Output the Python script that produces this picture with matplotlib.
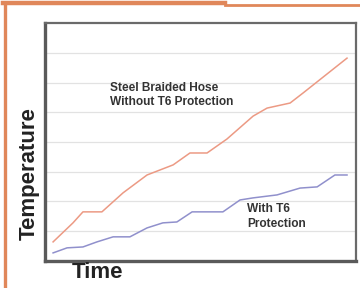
import matplotlib
matplotlib.use("Agg")
import matplotlib.pyplot as plt
from matplotlib.lines import Line2D

# Data (time in arbitrary units 0-100, temperature in arbitrary grid units 0-8)
hose_time = [2.6, 9.0, 12.2, 18.3, 25.1, 32.8, 37.0, 41.2, 46.6, 52.1, 58.5, 66.9, 71.4, 78.8, 83.0, 97.1]
hose_temp = [0.64, 1.28, 1.65, 1.65, 2.29, 2.89, 3.06, 3.23, 3.63, 3.63, 4.10, 4.87, 5.14, 5.31, 5.65, 6.82]

t6_time = [2.6, 7.1, 12.2, 16.7, 21.9, 27.3, 32.8, 37.9, 42.4, 47.3, 57.2, 62.7, 66.9, 74.6, 82.0, 87.5, 93.2, 97.1]
t6_temp = [0.27, 0.44, 0.47, 0.64, 0.81, 0.81, 1.11, 1.28, 1.31, 1.65, 1.65, 2.05, 2.12, 2.22, 2.45, 2.49, 2.89, 2.89]

grid_levels = [1, 2, 3, 4, 5, 6, 7]

fig = plt.figure(figsize=(3.6, 2.88), dpi=100)
fig.patch.set_facecolor("white")

ax = fig.add_axes([0.125, 0.094, 0.864, 0.826])
ax.set_xlim(0, 100)
ax.set_ylim(0, 8)

for g in grid_levels:
    ax.axhline(g, color="#e2e2e2", lw=0.9, zorder=0)

ax.plot(hose_time, hose_temp, color="#ec9a84", lw=1.1, zorder=3)
ax.plot(t6_time, t6_temp, color="#9090cc", lw=1.1, zorder=3)

ax.set_xticks([])
ax.set_yticks([])
for side in ["left", "bottom"]:
    ax.spines[side].set_linewidth(2.4)
    ax.spines[side].set_color("#5a5a5a")
for side in ["top", "right"]:
    ax.spines[side].set_linewidth(1.6)
    ax.spines[side].set_color("#6a6a6a")

fam = ["Liberation Sans", "DejaVu Sans"]
ax.text(20.9, 5.58, "Steel Braided Hose\nWithout T6 Protection", fontsize=8.6,
        fontweight="bold", color="#333333", family=fam, va="center", ha="left",
        linespacing=1.3)
ax.text(65.0, 1.50, "With T6\nProtection", fontsize=8.6,
        fontweight="bold", color="#333333", family=fam, va="center", ha="left",
        linespacing=1.3)

fig.text(29 / 360, 1 - 174 / 288, "Temperature", rotation=90, fontsize=16,
         fontweight="bold", color="#222222", family=fam, ha="center", va="center")
fig.text(97 / 360, 1 - 273 / 288, "Time", fontsize=16,
         fontweight="bold", color="#222222", family=fam, ha="center", va="center")

# orange frame
orange = "#e0875a"
fig.add_artist(Line2D([4.5 / 360, 4.5 / 360], [0, 1 - 3 / 288], transform=fig.transFigure,
                      color=orange, lw=2.4))
fig.add_artist(Line2D([3 / 360, 225 / 360], [1 - 3 / 288, 1 - 3 / 288], transform=fig.transFigure,
                      color=orange, lw=3.2))
fig.add_artist(Line2D([225 / 360, 1], [1 - 4.5 / 288, 1 - 4.5 / 288], transform=fig.transFigure,
                      color=orange, lw=2.0))

fig.savefig("out.png", dpi=100, facecolor="white")
